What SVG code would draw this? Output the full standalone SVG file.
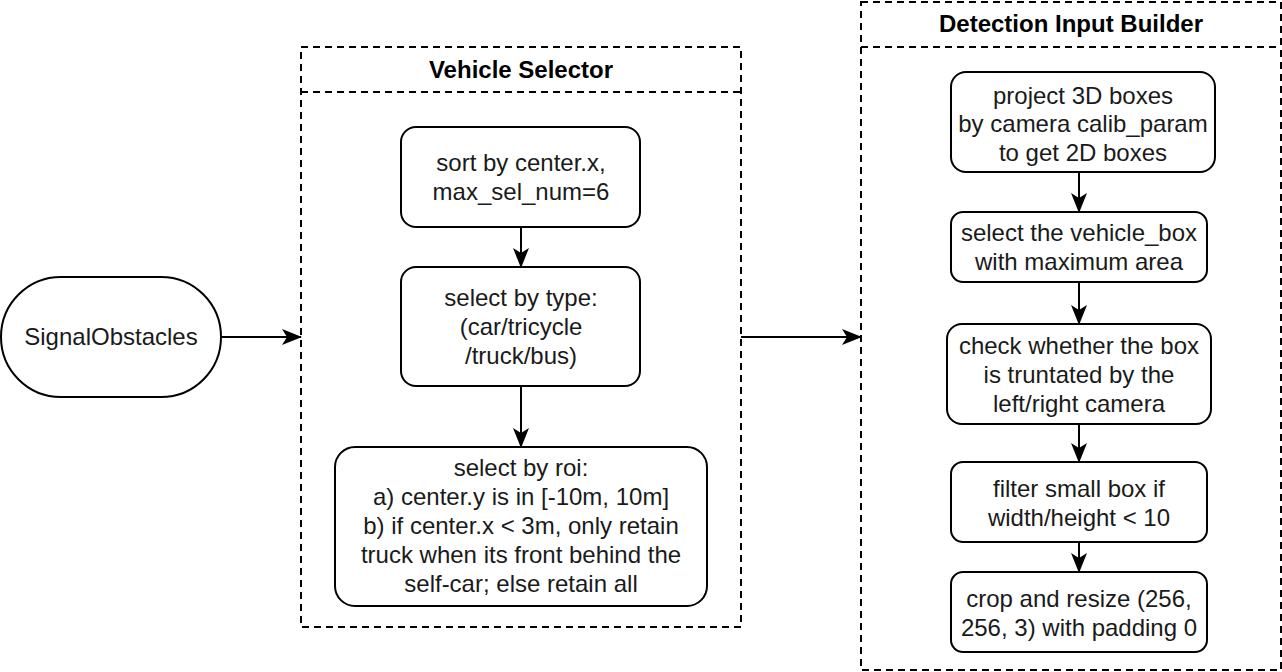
<svg xmlns="http://www.w3.org/2000/svg" width="1282" height="672" viewBox="0 0 1282 672">
<style>
text{font-family:"Liberation Sans",Arial,sans-serif;font-size:24px;fill:#1a1a1a;text-anchor:middle}
.t{font-weight:bold;font-size:24px;fill:#000}
.box{fill:#fff;stroke:#000;stroke-width:2}
.cont{fill:none;stroke:#000;stroke-width:2;stroke-dasharray:7 5}
.c{fill:none;stroke:#000;stroke-width:2}
</style>
<defs>
<marker id="ah" viewBox="0 0 20 16" refX="19" refY="8" markerWidth="20" markerHeight="16" markerUnits="userSpaceOnUse" orient="auto">
<path d="M0,0 L20,8 L0,16 L5,8 Z" fill="#000"/>
</marker>
</defs>
<rect width="1282" height="672" fill="#fff"/>
<g id="signal">
<rect class="box" x="1" y="277" width="220" height="120" rx="60"/>
<text x="111" y="345">SignalObstacles</text>
</g>
<g id="vehicle-selector">
<rect class="cont" x="301" y="47" width="440" height="580"/>
<line class="cont" x1="301" y1="92" x2="741" y2="92"/>
<text class="t" x="521" y="78">Vehicle Selector</text>
</g>
<g id="vs1">
<rect class="box" x="401" y="127" width="239" height="100" rx="15"/>
<text x="521" y="171">sort by center.x,</text>
<text x="521" y="200">max_sel_num=6</text>
</g>
<g id="vs2">
<rect class="box" x="401" y="267" width="239" height="119" rx="15"/>
<text x="521" y="306">select by type:</text>
<text x="521" y="335">(car/tricycle</text>
<text x="521" y="364">/truck/bus)</text>
</g>
<g id="vs3">
<rect class="box" x="335" y="447" width="372" height="159" rx="20"/>
<text x="521" y="476">select by roi:</text>
<text x="521" y="505">a) center.y is in [-10m, 10m]</text>
<text x="521" y="534">b) if center.x &lt; 3m, only retain</text>
<text x="521" y="563">truck when its front behind the</text>
<text x="521" y="592">self-car; else retain all</text>
</g>
<g id="detection-input-builder">
<rect class="cont" x="861" y="2" width="420" height="668"/>
<line class="cont" x1="861" y1="47" x2="1281" y2="47"/>
<text class="t" x="1071" y="32">Detection Input Builder</text>
</g>
<g id="dib1">
<rect class="box" x="951" y="72" width="264" height="100" rx="15"/>
<text x="1083" y="104">project 3D boxes</text>
<text x="1083" y="132">by camera calib_param</text>
<text x="1083" y="161">to get 2D boxes</text>
</g>
<g id="dib2">
<rect class="box" x="951" y="212" width="256" height="70" rx="12"/>
<text x="1079" y="241">select the vehicle_box</text>
<text x="1079" y="270">with maximum area</text>
</g>
<g id="dib3">
<rect class="box" x="947" y="324" width="264" height="100" rx="15"/>
<text x="1079" y="354">check whether the box</text>
<text x="1079" y="383">is truntated by the</text>
<text x="1079" y="412">left/right camera</text>
</g>
<g id="dib4">
<rect class="box" x="951" y="462" width="256" height="80" rx="12"/>
<text x="1079" y="497">filter small box if</text>
<text x="1079" y="526">width/height &lt; 10</text>
</g>
<g id="dib5">
<rect class="box" x="951" y="572" width="256" height="80" rx="12"/>
<text x="1079" y="607">crop and resize (256,</text>
<text x="1079" y="636">256, 3) with padding 0</text>
</g>
<g id="connectors">
<line class="c" x1="221" y1="337" x2="301" y2="337" marker-end="url(#ah)"/>
<line class="c" x1="741" y1="337" x2="861" y2="337" marker-end="url(#ah)"/>
<line class="c" x1="521" y1="227" x2="521" y2="267" marker-end="url(#ah)"/>
<line class="c" x1="521" y1="386" x2="521" y2="447" marker-end="url(#ah)"/>
<line class="c" x1="1079" y1="172" x2="1079" y2="212" marker-end="url(#ah)"/>
<line class="c" x1="1079" y1="282" x2="1079" y2="324" marker-end="url(#ah)"/>
<line class="c" x1="1079" y1="424" x2="1079" y2="462" marker-end="url(#ah)"/>
<line class="c" x1="1079" y1="542" x2="1079" y2="572" marker-end="url(#ah)"/>
</g>
</svg>
